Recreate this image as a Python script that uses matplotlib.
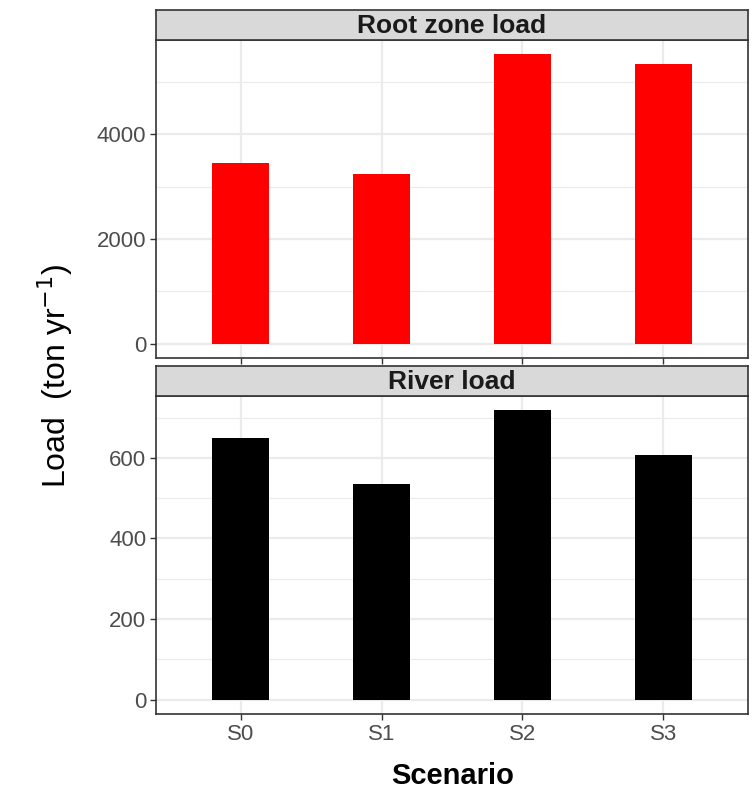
import matplotlib
matplotlib.use("Agg")
import matplotlib.pyplot as plt
from matplotlib.ticker import MultipleLocator

scenarios = ["S0", "S1", "S2", "S3"]
root_zone_load = [3448, 3238, 5524, 5333]
river_load = [649, 536, 718, 607]
panel_titles = ["Root zone load", "River load"]
bar_colors = ["#FF0000", "#000000"]

W, H = 752, 793
fig = plt.figure(figsize=(W / 100, H / 100), dpi=100)
plt.rcParams['font.family'] = ['Liberation Sans', 'DejaVu Sans']

def fx(px):
    return px / W

def fy(py):
    return 1 - py / H

left, right = 156, 748
panels = [(40, 358, 10), (396, 714, 366)]
datas = [root_zone_load, river_load]
majors = [2000, 200]
minors = [1000, 100]

for i, ((top, bot, stop), vals, col, title) in enumerate(zip(panels, datas, bar_colors, panel_titles)):
    ax = fig.add_axes([fx(left), fy(bot), fx(right) - fx(left), fy(top) - fy(bot)])
    x = list(range(1, len(scenarios) + 1))
    ax.bar(x, vals, width=0.4, color=col, zorder=3)
    vmax = max(vals)
    ax.set_xlim(0.4, len(scenarios) + 0.6)
    ax.set_ylim(-0.05 * vmax, 1.05 * vmax)
    ax.yaxis.set_major_locator(MultipleLocator(majors[i]))
    ax.yaxis.set_minor_locator(MultipleLocator(minors[i]))
    ax.set_xticks(x)
    ax.grid(which='major', color='#EBEBEB', linewidth=1.6, zorder=0)
    ax.grid(which='minor', axis='y', color='#EBEBEB', linewidth=0.8, zorder=0)
    for s in ax.spines.values():
        s.set_color('#333333')
        s.set_linewidth(1.2)
    ax.tick_params(axis='both', which='major', length=4, width=1, color='#333333',
                   labelsize=16, labelcolor='#4D4D4D', pad=3)
    ax.tick_params(axis='both', which='minor', length=0)
    if i == 0:
        ax.tick_params(axis='x', labelbottom=False)
    else:
        ax.set_xticklabels(scenarios)
    sax = fig.add_axes([fx(left), fy(top), fx(right) - fx(left), fy(stop) - fy(top)])
    sax.set_facecolor('#D9D9D9')
    sax.set_xticks([]); sax.set_yticks([])
    for s in sax.spines.values():
        s.set_color('#333333')
        s.set_linewidth(1.2)
    sax.text(0.5, 0.47, title, ha='center', va='center', fontsize=19,
             fontweight='bold', color='#1A1A1A', transform=sax.transAxes)

fig.text(fx(55), fy(376), r'Load  (ton yr$^{-1}$)', rotation=90, ha='center', va='center',
         fontsize=23, color='black')
fig.text(fx(453), fy(776), 'Scenario', ha='center', va='center', fontsize=21,
         fontweight='bold', color='black')

fig.savefig('out.png', dpi=100)
